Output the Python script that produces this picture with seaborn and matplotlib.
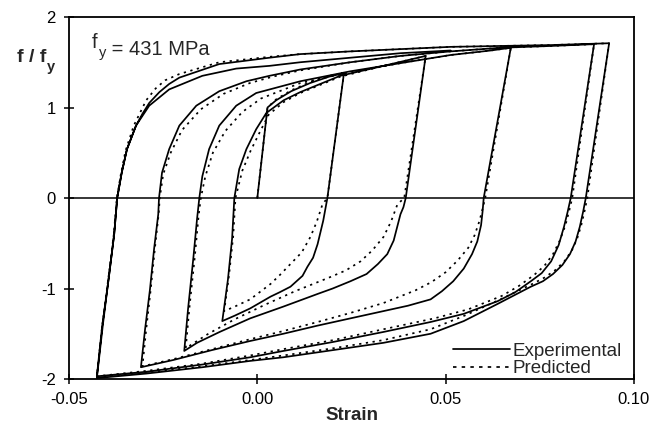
import matplotlib
matplotlib.use("Agg")
import matplotlib.pyplot as plt
import seaborn as sns
import numpy as np

# ---------------- data ----------------
# Experimental branches (strain, f/fy)
exp_0_x = [0.0, 0.0027, 0.005, 0.009, 0.014, 0.019, 0.023]
exp_0_y = [0.0, 1.0, 1.08, 1.18, 1.27, 1.34, 1.38]
exp_a_x = [0.023, 0.0186, 0.0175, 0.0160, 0.0148, 0.0133, 0.0120, 0.0088, 0.0060, 0.0035, -0.0019, -0.0060, -0.0093]
exp_a_y = [1.38, 0.0, -0.25, -0.51, -0.66, -0.76, -0.86, -0.98, -1.04, -1.09, -1.22, -1.30, -1.36]
exp_b_x = [-0.0093, -0.0078, -0.0067, -0.0061, -0.0048, -0.0029, -0.0003, 0.0024, 0.0070, 0.0114, 0.0220, 0.0335, 0.0447]
exp_b_y = [-1.36, -0.90, -0.45, 0.0, 0.32, 0.54, 0.76, 0.94, 1.08, 1.17, 1.35, 1.46, 1.57]
exp_c_x = [0.0447, 0.0394, 0.0388, 0.0380, 0.0362, 0.0345, 0.0320, 0.0290, 0.0247, 0.0200, 0.0160, 0.0069, -0.0019, -0.0100, -0.0160, -0.0194]
exp_c_y = [1.57, 0.0, -0.10, -0.18, -0.47, -0.62, -0.73, -0.84, -0.92, -1.00, -1.06, -1.20, -1.33, -1.48, -1.60, -1.69]
exp_d_x = [-0.0194, -0.0184, -0.0170, -0.0160, -0.0154, -0.0146, -0.0128, -0.0101, -0.0056, -0.0003, 0.0114, 0.0247, 0.0380, 0.0513, 0.0620, 0.0673]
exp_d_y = [-1.69, -1.23, -0.67, -0.23, 0.0, 0.24, 0.54, 0.80, 1.02, 1.16, 1.29, 1.40, 1.49, 1.58, 1.63, 1.66]
exp_e_x = [0.0673, 0.0601, 0.0598, 0.0594, 0.0584, 0.0570, 0.0548, 0.0520, 0.0490, 0.0460, 0.0400, 0.0335, 0.0247, 0.0160, 0.0069, -0.0019, -0.0120, -0.0223, -0.0309]
exp_e_y = [1.66, 0.0, -0.15, -0.30, -0.48, -0.62, -0.78, -0.92, -1.03, -1.12, -1.19, -1.25, -1.33, -1.41, -1.50, -1.58, -1.68, -1.79, -1.87]
exp_f_x = [-0.0309, -0.0298, -0.0285, -0.0274, -0.0263, -0.0261, -0.0253, -0.0234, -0.0207, -0.0162, -0.0101, -0.0029, 0.0032, 0.0114, 0.0247, 0.0380, 0.0513, 0.0646, 0.0780, 0.0894]
exp_f_y = [-1.87, -1.45, -1.01, -0.56, -0.18, 0.0, 0.28, 0.54, 0.80, 1.02, 1.18, 1.29, 1.35, 1.42, 1.50, 1.57, 1.62, 1.66, 1.68, 1.70]
exp_g_x = [0.0894, 0.0832, 0.0824, 0.0814, 0.0800, 0.0780, 0.0755, 0.0726, 0.0685, 0.0638, 0.0548, 0.0460, 0.0335, 0.0202, 0.0069, -0.0019, -0.0146, -0.0295, -0.0426]
exp_g_y = [1.70, 0.0, -0.15, -0.32, -0.52, -0.70, -0.83, -0.92, -1.04, -1.14, -1.28, -1.37, -1.48, -1.59, -1.69, -1.76, -1.84, -1.92, -1.97]
exp_h_x = [-0.0426, -0.0412, -0.0394, -0.0380, -0.0372, -0.0360, -0.0346, -0.0322, -0.0305, -0.0287, -0.0260, -0.0234, -0.0207, -0.0101, 0.0032, 0.0114, 0.0247, 0.0513, 0.0780, 0.0934]
exp_h_y = [-1.97, -1.42, -0.87, -0.40, 0.0, 0.28, 0.54, 0.80, 0.93, 1.05, 1.17, 1.26, 1.33, 1.48, 1.55, 1.59, 1.62, 1.67, 1.69, 1.71]
exp_i_x = [0.0934, 0.0872, 0.0865, 0.0856, 0.0845, 0.0830, 0.0810, 0.0785, 0.0758, 0.0726, 0.0638, 0.0548, 0.0460, 0.0335, 0.0202, 0.0069, -0.0019, -0.0146, -0.0295, -0.0426]
exp_i_y = [1.71, 0.0, -0.15, -0.32, -0.48, -0.62, -0.74, -0.84, -0.92, -0.98, -1.17, -1.36, -1.50, -1.60, -1.68, -1.76, -1.80, -1.87, -1.94, -1.99]
exp_j_x = [-0.0426, -0.0410, -0.0394, -0.0380, -0.0372, -0.0360, -0.0346, -0.0322, -0.0287, -0.0234, -0.0146, -0.0056, 0.0032, 0.0114, 0.0247, 0.0380, 0.0513]
exp_j_y = [-1.99, -1.40, -0.87, -0.40, 0.0, 0.28, 0.54, 0.80, 1.02, 1.20, 1.35, 1.43, 1.46, 1.50, 1.55, 1.60, 1.63]

# Predicted branches
pre_0_x = [0.0, 0.0027, 0.005, 0.009, 0.014, 0.019, 0.023]
pre_0_y = [0.0, 1.0, 1.09, 1.19, 1.28, 1.35, 1.38]
pre_a_x = [0.023, 0.0186, 0.0173, 0.0158, 0.0141, 0.0118, 0.0088, 0.0060, 0.0035, -0.0019, -0.0060, -0.0088]
pre_a_y = [1.38, 0.0, -0.07, -0.26, -0.43, -0.60, -0.73, -0.85, -0.95, -1.12, -1.20, -1.25]
pre_b_x = [-0.0088, -0.0075, -0.0064, -0.0058, -0.0040, -0.0018, 0.0008, 0.0030, 0.0070, 0.0114, 0.0220, 0.0335, 0.0447]
pre_b_y = [-1.25, -0.85, -0.42, 0.0, 0.30, 0.52, 0.74, 0.92, 1.06, 1.16, 1.34, 1.46, 1.57]
pre_c_x = [0.0447, 0.0390, 0.0372, 0.0355, 0.0335, 0.0305, 0.0274, 0.0235, 0.0190, 0.0100, 0.0020, -0.0060, -0.0130, -0.0190]
pre_c_y = [1.57, 0.0, -0.07, -0.26, -0.43, -0.58, -0.70, -0.80, -0.88, -1.03, -1.18, -1.34, -1.50, -1.66]
pre_d_x = [-0.0190, -0.0180, -0.0166, -0.0156, -0.0150, -0.0138, -0.0118, -0.0085, -0.0040, 0.0010, 0.0114, 0.0247, 0.0380, 0.0513, 0.0620, 0.0673]
pre_d_y = [-1.66, -1.20, -0.65, -0.20, 0.0, 0.24, 0.50, 0.74, 0.95, 1.10, 1.27, 1.39, 1.49, 1.58, 1.63, 1.66]
pre_e_x = [0.0673, 0.0605, 0.0598, 0.0590, 0.0577, 0.0560, 0.0532, 0.0500, 0.0462, 0.0420, 0.0335, 0.0247, 0.0160, 0.0069, -0.0019, -0.0120, -0.0223, -0.0305]
pre_e_y = [1.66, 0.0, -0.12, -0.25, -0.41, -0.55, -0.69, -0.82, -0.93, -1.02, -1.16, -1.27, -1.37, -1.47, -1.56, -1.67, -1.78, -1.86]
pre_f_x = [-0.0305, -0.0295, -0.0283, -0.0272, -0.0262, -0.0259, -0.0250, -0.0230, -0.0200, -0.0150, -0.0090, -0.0020, 0.0040, 0.0114, 0.0247, 0.0380, 0.0513, 0.0646, 0.0780, 0.0894]
pre_f_y = [-1.86, -1.45, -1.01, -0.56, -0.18, 0.0, 0.26, 0.50, 0.75, 0.98, 1.15, 1.27, 1.34, 1.41, 1.50, 1.57, 1.62, 1.66, 1.68, 1.70]
pre_g_x = [0.0894, 0.0836, 0.0828, 0.0818, 0.0803, 0.0785, 0.0762, 0.0735, 0.0695, 0.0650, 0.0560, 0.0470, 0.0335, 0.0202, 0.0069, -0.0019, -0.0146, -0.0295, -0.0426]
pre_g_y = [1.70, 0.0, -0.14, -0.30, -0.47, -0.62, -0.75, -0.85, -0.97, -1.08, -1.23, -1.33, -1.45, -1.57, -1.67, -1.74, -1.83, -1.91, -1.97]
pre_h_x = [-0.0426, -0.0412, -0.0395, -0.0381, -0.0373, -0.0362, -0.0350, -0.0328, -0.0295, -0.0270, -0.0245, -0.0207, -0.0101, 0.0032, 0.0114, 0.0247, 0.0513, 0.0780, 0.0934]
pre_h_y = [-1.97, -1.42, -0.87, -0.40, 0.0, 0.27, 0.52, 0.80, 1.08, 1.21, 1.30, 1.37, 1.50, 1.56, 1.59, 1.62, 1.67, 1.69, 1.71]
pre_i_x = [0.0934, 0.0876, 0.0869, 0.0860, 0.0849, 0.0835, 0.0815, 0.0790, 0.0762, 0.0730, 0.0640, 0.0550, 0.0460, 0.0335, 0.0202, 0.0069, -0.0019, -0.0146, -0.0295, -0.0426]
pre_i_y = [1.71, 0.0, -0.14, -0.30, -0.45, -0.58, -0.70, -0.80, -0.88, -0.95, -1.13, -1.30, -1.45, -1.57, -1.66, -1.74, -1.79, -1.86, -1.93, -1.98]

exp_branches = [(exp_0_x, exp_0_y), (exp_a_x, exp_a_y), (exp_b_x, exp_b_y), (exp_c_x, exp_c_y),
                (exp_d_x, exp_d_y), (exp_e_x, exp_e_y), (exp_f_x, exp_f_y), (exp_g_x, exp_g_y),
                (exp_h_x, exp_h_y), (exp_i_x, exp_i_y), (exp_j_x, exp_j_y)]
pre_branches = [(pre_0_x, pre_0_y), (pre_a_x, pre_a_y), (pre_b_x, pre_b_y), (pre_c_x, pre_c_y),
                (pre_d_x, pre_d_y), (pre_e_x, pre_e_y), (pre_f_x, pre_f_y), (pre_g_x, pre_g_y),
                (pre_h_x, pre_h_y), (pre_i_x, pre_i_y)]

x_ticks = [-0.05, 0.0, 0.05, 0.10]
x_ticklabels = ["-0.05", "0.00", "0.05", "0.10"]
y_ticks = [-2, -1, 0, 1, 2]
y_ticklabels = ["-2", "-1", "0", "1", "2"]
legend_labels = ["Experimental", "Predicted"]

# ---------------- plotting ----------------
sns.set_style("ticks")
plt.rcParams["font.family"] = ["Liberation Sans", "DejaVu Sans"]

fig = plt.figure(figsize=(6.62, 4.26), dpi=100)
ax = fig.add_axes([0.1042, 0.1103, 0.8535, 0.8498])

def path(branches):
    xs, ys = [], []
    for bx, by in branches:
        xs.extend(bx)
        ys.extend(by)
    return np.array(xs), np.array(ys)

ex, ey = path(exp_branches)
px, py = path(pre_branches)

LW = 1.25
dot_style = (0, (1.3, 2.6))
sns.lineplot(x=px, y=py, sort=False, estimator=None, color="black", lw=LW,
             linestyle=dot_style, ax=ax)
sns.lineplot(x=ex, y=ey, sort=False, estimator=None, color="black", lw=LW, ax=ax)

ax.axhline(0, color="black", lw=1.1, zorder=1)

ax.set_xlim(-0.05, 0.10)
ax.set_ylim(-2, 2)
ax.set_xticks(x_ticks)
ax.set_xticklabels(x_ticklabels)
ax.set_yticks(y_ticks)
ax.set_yticklabels(y_ticklabels)
ax.tick_params(direction="inout", length=7, width=1.1, labelsize=12, colors="black", pad=6)
for s in ax.spines.values():
    s.set_visible(True)
    s.set_linewidth(1.3)
    s.set_color("black")

ax.set_xlabel("Strain", fontsize=13.5, fontweight="bold", labelpad=0)
ax.set_ylabel("")

# y label "f / fy" at top-left
t1 = fig.text(0.026, 0.855, "f / f", fontsize=14, fontweight="bold", ha="left", va="baseline")
ax.annotate("y", xy=(1, 0), xycoords=t1, xytext=(0.5, -4), textcoords="offset points",
            fontsize=10.5, fontweight="bold", ha="left", va="baseline")

# f_y = 431 MPa
t2 = ax.text(0.041, 0.915, "f", transform=ax.transAxes, fontsize=14.5, ha="left", va="baseline")
t3 = ax.annotate("y", xy=(1, 0), xycoords=t2, xytext=(0.5, -3.5), textcoords="offset points",
                 fontsize=10.5, ha="left", va="baseline")
ax.annotate(" = 431 MPa", xy=(1, 0), xycoords=t3, xytext=(0, 3.5), textcoords="offset points",
            fontsize=14.5, ha="left", va="baseline")

handles = [plt.Line2D([], [], color="black", lw=LW),
           plt.Line2D([], [], color="black", lw=LW, linestyle=(0, (2.0, 3.0)))]
ax.legend(handles, legend_labels, loc="lower right", bbox_to_anchor=(0.985, -0.005),
          frameon=False, fontsize=13.5, handlelength=3.0, handletextpad=0.15,
          labelspacing=0.0, borderpad=0.2, borderaxespad=0.0)

fig.savefig("out.png", dpi=100)
